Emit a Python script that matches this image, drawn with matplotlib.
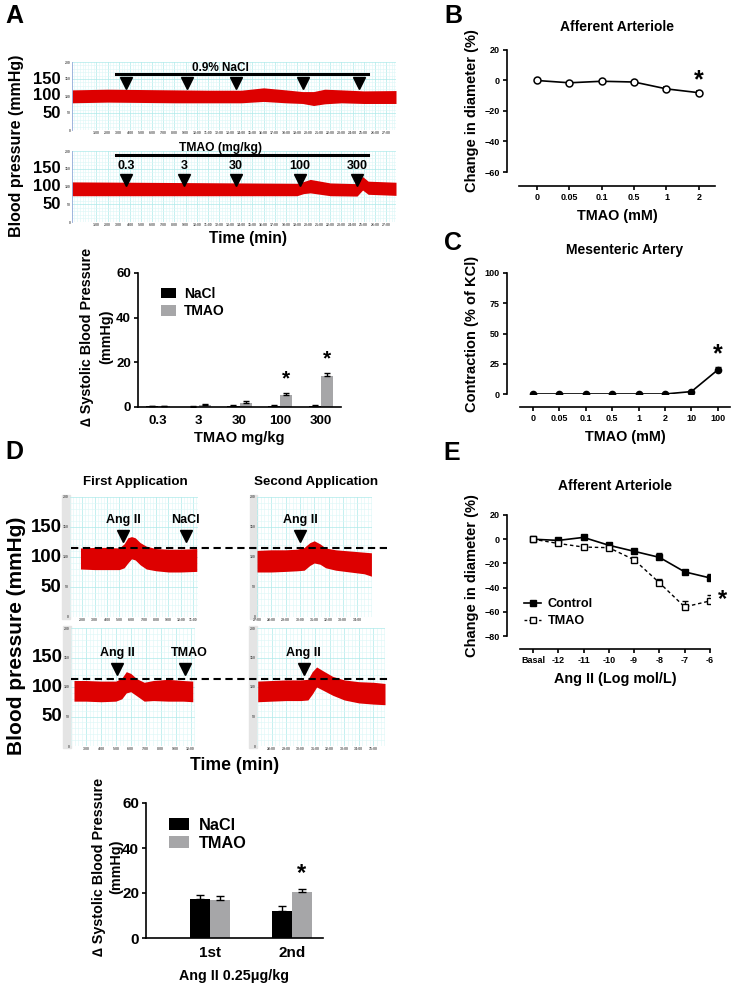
import matplotlib
matplotlib.use('Agg')
import numpy as np
import matplotlib.pyplot as plt
from matplotlib.patches import Rectangle
from matplotlib.lines import Line2D
from matplotlib.transforms import blended_transform_factory

W, H = 733, 985
plt.rcParams['font.family'] = ['Liberation Sans', 'DejaVu Sans']
plt.rcParams['font.weight'] = 'bold'
plt.rcParams['axes.labelweight'] = 'bold'
plt.rcParams['axes.titleweight'] = 'bold'
plt.rcParams['axes.linewidth'] = 1.2

# ---------------- data ----------------
# A: BP recordings (time in min, upper / lower envelope in mmHg)
a1_t = [-1.2, 2, 5, 8, 11, 14, 16, 18, 19.5, 20.5, 21.5, 23, 25, 27.9]
a1_up = [118, 120, 119, 118, 117, 117, 124, 118, 113, 113, 120, 118, 115, 116]
a1_lo = [80, 82, 81, 80, 80, 80, 84, 80, 78, 72, 77, 80, 78, 78]
a1_marks = [3.65, 9.13, 13.5, 19.55, 24.6]

a2_t = [-1.2, 4, 9, 14, 19, 19.6, 20.2, 22, 24.4, 24.9, 25.4, 27.9]
a2_up = [113, 112, 111, 110, 109, 114, 120, 110, 108, 128, 115, 112]
a2_lo = [74, 74, 74, 74, 74, 80, 82, 74, 73, 90, 78, 75]
a2_marks = [3.65, 8.86, 13.5, 19.3, 24.4]
a2_doses = ['0.3', '3', '30', '100', '300']

# A: delta SBP bars
a_doses = ['0.3', '3', '30', '100', '300']
a_nacl = [0.3, 0.2, 0.5, 0.5, 0.5]
a_nacl_err = [0.2, 0.2, 0.3, 0.3, 0.3]
a_tmao = [0.3, 0.8, 1.8, 5.5, 14.0]
a_tmao_err = [0.2, 0.5, 1.0, 0.8, 1.2]

# B: afferent arteriole, TMAO
b_conc = ['0', '0.05', '0.1', '0.5', '1', '2']
b_val = [0, -1.5, -0.5, -1, -5.5, -8]
b_err = [0.5, 0.8, 0.7, 0.8, 1.5, 1.2]

# C: mesenteric artery, TMAO
c_conc = ['0', '0.05', '0.1', '0.5', '1', '2', '10', '100']
c_val = [0, 0, 0, 0, 0, 0, 2, 20]
c_err = [0.3, 0.3, 0.3, 0.3, 0.3, 0.3, 0.5, 2.5]

# D: BP recordings around Ang II
d_tl_t = [1.85, 3, 4, 5, 5.4, 5.7, 6.0, 6.3, 6.7, 7.2, 8, 9, 10, 11.3]
d_tl_up = [115, 116, 116, 115, 122, 132, 134, 132, 124, 118, 114, 113, 113, 114]
d_tl_lo = [80, 79, 79, 79, 82, 90, 97, 95, 87, 80, 77, 75, 75, 76]
d_tr_t = [27, 28, 29, 29.8, 30.3, 30.7, 31.0, 31.4, 31.8, 32.5, 33.5, 34.5, 35.0]
d_tr_up = [111, 112, 112, 113, 116, 124, 127, 122, 115, 112, 110, 108, 107]
d_tr_lo = [75, 75, 76, 77, 78, 86, 90, 88, 82, 78, 75, 72, 68]
d_bl_t = [2.2, 3, 4, 5, 5.4, 5.7, 6.0, 6.4, 6.9, 7.5, 8.5, 9.5, 10.15]
d_bl_up = [111, 111, 110, 110, 115, 126, 123, 114, 108, 111, 113, 111, 110]
d_bl_lo = [76, 76, 75, 76, 80, 90, 92, 85, 76, 77, 76, 76, 75]
d_br_t = [27.05, 28, 29, 30, 30.5, 30.8, 31.1, 31.5, 32.2, 33, 34, 35, 35.8]
d_br_up = [110, 111, 112, 112, 113, 126, 134, 128, 118, 112, 109, 108, 106]
d_br_lo = [75, 76, 77, 77, 78, 88, 100, 95, 86, 78, 73, 71, 70]
d_base_top = 115
d_base_bottom = 113

# D: delta SBP bars
d_groups = ['1st', '2nd']
d_nacl = [17.5, 12.0]
d_nacl_err = [1.8, 2.2]
d_tmao = [16.8, 20.5]
d_tmao_err = [2.0, 1.5]

# E: afferent arteriole, Ang II
e_conc = ['Basal', '-12', '-11', '-10', '-9', '-8', '-7', '-6']
e_ctrl = [0, -1, 1.5, -5, -10, -15, -27, -32]
e_ctrl_err = [0.5, 1, 2, 2, 2, 4, 1.5, 3]
e_tmao = [0, -3.5, -6.5, -7, -17, -36, -56, -51]
e_tmao_err = [0.5, 1, 1, 1, 2, 3, 5, 5]

RED = '#dd0000'
GRAY = '#a6a6a8'


def rect(x0, y0, x1, y1):
    return [x0 / W, 1 - y1 / H, (x1 - x0) / W, (y1 - y0) / H]


fig = plt.figure(figsize=(W / 100, H / 100), dpi=100)


def ftext(x, y, s, **kw):
    kw.setdefault('ha', 'center')
    kw.setdefault('va', 'center')
    fig.text(x / W, 1 - y / H, s, **kw)


def trace_axes(r, xlim, xt, strip=False, bigsize=None, bigpad=8):
    ax = fig.add_axes(rect(*r))
    ax.set_xlim(*xlim)
    ax.set_ylim(0, 200)
    ax.set_yticks([0, 50, 100, 150, 200])
    ax.set_yticks(np.arange(0, 201, 10), minor=True)
    ax.set_xticks(xt)
    ax.set_xticklabels(['%d:00' % v for v in xt])
    ax.set_xticks(np.arange(int(xlim[0]), xlim[1], 0.25), minor=True)
    ax.grid(which='major', color='#aeeaea', lw=0.5)
    ax.grid(which='minor', color='#dcf7f7', lw=0.4)
    ax.set_axisbelow(True)
    ax.tick_params(which='both', length=0, pad=1, labelsize=2.5,
                   labelcolor='#555555')
    for s in ax.spines.values():
        s.set_visible(False)
    if strip:
        ax.add_patch(Rectangle((-0.065, -0.02), 0.065, 1.04, transform=ax.transAxes,
                               color='#e4e4e4', clip_on=False, zorder=0))
    else:
        ax.spines['left'].set_visible(True)
        ax.spines['left'].set_color('#8fa8d8')
        ax.spines['left'].set_linewidth(0.6)
    if bigsize:
        for v in [50, 100, 150]:
            ax.annotate(str(v), xy=(0, v), xycoords=ax.get_yaxis_transform(),
                        xytext=(-bigpad, 0), textcoords='offset points',
                        ha='right', va='center', fontsize=bigsize, fontweight='bold')
    return ax


def arrows(ax, xs, y, size=8):
    ax.plot(xs, [y] * len(xs), 'v', color='k', ms=size, clip_on=False, zorder=5)


def prism(ax, left_out=9, bottom_out=9):
    ax.spines['top'].set_visible(False)
    ax.spines['right'].set_visible(False)
    ax.spines['left'].set_position(('outward', left_out))
    ax.spines['bottom'].set_position(('outward', bottom_out))
    ax.tick_params(direction='out', length=3, width=1.2, labelsize=6.5, pad=2)
    for lab in ax.get_xticklabels() + ax.get_yticklabels():
        lab.set_fontweight('bold')


# ---------------- Panel A traces ----------------
ftext(14, 16, 'A', fontsize=18)
ax = trace_axes((72, 62, 396, 130), (-1.2, 27.9), list(range(1, 28)), bigsize=12)
ax.fill_between(a1_t, a1_lo, a1_up, color=RED, lw=0, zorder=2)
ax.plot([2.75, 25.4], [165, 165], color='k', lw=2.2, clip_on=False, zorder=5)
arrows(ax, a1_marks, 138)
ax.text(12.1, 183, '0.9% NaCl', ha='center', va='center', fontsize=8.5)

ax = trace_axes((72, 151, 396, 222), (-1.2, 27.9), list(range(1, 28)), bigsize=12)
ax.fill_between(a2_t, a2_lo, a2_up, color=RED, lw=0, zorder=2)
ax.plot([2.75, 25.4], [189, 189], color='k', lw=2.2, clip_on=False, zorder=5)
arrows(ax, a2_marks, 118)
for xm, d in zip(a2_marks, a2_doses):
    ax.text(xm, 158, d, ha='center', va='center', fontsize=9)
ax.text(12.1, 209, 'TMAO (mg/kg)', ha='center', va='center', fontsize=8.7)

ftext(17, 146, 'Blood pressure (mmHg)', rotation=90, fontsize=11.5)
ftext(248, 238, 'Time (min)', fontsize=11.2)

# ---------------- Panel A bars ----------------
ax = fig.add_axes(rect(138, 273, 341, 407))
x = np.arange(len(a_doses))
bw = 0.3
ax.bar(x - bw / 2, a_nacl, bw, color='k', yerr=[np.zeros(5), a_nacl_err],
       capsize=2.5, error_kw=dict(lw=1, capthick=1), label='NaCl')
ax.bar(x + bw / 2, a_tmao, bw, color=GRAY, yerr=[np.zeros(5), a_tmao_err],
       capsize=2.5, error_kw=dict(lw=1, capthick=1), label='TMAO')
for i in [3, 4]:
    ax.text(x[i] + bw / 2, a_tmao[i] + a_tmao_err[i] + 2, '*', ha='center',
            va='bottom', fontsize=15)
ax.set_xlim(-0.5, 4.5)
ax.set_ylim(0, 60)
ax.set_yticks([0, 20, 40, 60])
ax.set_xticks(x)
ax.set_xticklabels(a_doses)
ax.spines['top'].set_visible(False)
ax.spines['right'].set_visible(False)
ax.tick_params(axis='x', length=0, labelsize=9.5, pad=6)
ax.tick_params(axis='y', length=3, width=1.2, labelsize=9.5, pad=2)
ax.set_xlabel('TMAO mg/kg', fontsize=10.5, labelpad=3)
ax.legend(loc='upper left', bbox_to_anchor=(0.05, 0.99), frameon=False,
          fontsize=10, handlelength=1.1, handleheight=0.8, labelspacing=0.25,
          handletextpad=0.6)
ftext(87, 337, '\u2206 Systolic Blood Pressure', rotation=90, fontsize=10.4)
ftext(106, 337, '(mmHg)', rotation=90, fontsize=10.4)

# ---------------- Panel B ----------------
ftext(453, 16, 'B', fontsize=18)
ax = fig.add_axes(rect(519, 50, 715, 172))
xb = np.arange(len(b_conc))
ax.errorbar(xb, b_val, yerr=[np.zeros(len(b_val)), b_err], color='k', lw=1.2,
            capsize=2.5, capthick=1, marker='o', ms=5, mfc='white', mec='k', mew=1.1)
ax.plot(xb, b_val, '.', color='k', ms=2.2)
ax.text(5, 0, '*', ha='center', va='center', fontsize=18)
ax.set_xlim(-0.56, 5.5)
ax.set_ylim(-60, 20)
ax.set_yticks([-60, -40, -20, 0, 20])
ax.set_xticks(xb)
ax.set_xticklabels(b_conc)
prism(ax, 8.6, 10)
ax.set_xlabel('TMAO (mM)', fontsize=10.4, labelpad=5)
ax.set_ylabel('Change in diameter (%)', fontsize=10.5, labelpad=4)
ax.set_title('Afferent Arteriole', fontsize=10, pad=14)

# ---------------- Panel C ----------------
ftext(453, 243, 'C', fontsize=18)
ax = fig.add_axes(rect(520, 273, 730, 394))
xc = np.arange(len(c_conc))
ax.errorbar(xc, c_val, yerr=[np.zeros(len(c_val)), c_err], color='k', lw=1.2,
            capsize=2.5, capthick=1, marker='o', ms=4.5, mfc='k', mec='k')
ax.text(7, 33, '*', ha='center', va='center', fontsize=18)
ax.set_xlim(-0.49, 7.46)
ax.set_ylim(0, 100)
ax.set_yticks([0, 25, 50, 75, 100])
ax.set_xticks(xc)
ax.set_xticklabels(c_conc)
prism(ax, 9.4, 9.4)
ax.set_xlabel('TMAO (mM)', fontsize=10.4, labelpad=5)
ax.set_ylabel('Contraction (% of KCl)', fontsize=10.5, labelpad=4)
ax.set_title('Mesenteric Artery', fontsize=10, pad=14)

# ---------------- Panel D traces ----------------
ftext(14, 452, 'D', fontsize=18)
ftext(135, 482, 'First Application', fontsize=9.6)
ftext(316, 482, 'Second Application', fontsize=9.6)

dash = dict(color='k', lw=1.5, ls=(0, (3.5, 2.2)), zorder=6)

ax = trace_axes((70, 497, 198, 617), (1.85, 11.4), list(range(2, 12)), strip=True,
                bigsize=13.4, bigpad=6)
ax.fill_between(d_tl_t, d_tl_lo, d_tl_up, color=RED, lw=0, zorder=2)
arrows(ax, [5.3, 10.4], 135, 9)
ax.text(5.3, 162, 'Ang II', ha='center', va='center', fontsize=9)
ax.text(10.4, 162, 'NaCl', ha='center', va='center', fontsize=9)

ax = trace_axes((257, 497, 372, 617), (27, 35.04), list(range(27, 35)), strip=True)
ax.fill_between(d_tr_t, d_tr_lo, d_tr_up, color=RED, lw=0, zorder=2)
arrows(ax, [30.0], 135, 9)
ax.text(30.0, 162, 'Ang II', ha='center', va='center', fontsize=9)
tr = blended_transform_factory(ax.transAxes, ax.transData)
ax.add_line(Line2D([-1.617, 1.13], [d_base_top] * 2, transform=tr, clip_on=False, **dash))

ax = trace_axes((71, 628, 195, 746), (2.2, 10.3), list(range(3, 11)), strip=True,
                bigsize=13.4, bigpad=6)
ax.fill_between(d_bl_t, d_bl_lo, d_bl_up, color=RED, lw=0, zorder=2)
arrows(ax, [5.1, 9.6], 130, 9)
ax.text(5.1, 158, 'Ang II', ha='center', va='center', fontsize=9)
ax.text(9.9, 158, 'TMAO', ha='center', va='center', fontsize=9)

ax = trace_axes((257, 628, 385, 746), (27.05, 35.8), list(range(28, 36)), strip=True)
ax.fill_between(d_br_t, d_br_lo, d_br_up, color=RED, lw=0, zorder=2)
arrows(ax, [30.2], 130, 9)
ax.text(30.2, 158, 'Ang II', ha='center', va='center', fontsize=9)
tr = blended_transform_factory(ax.transAxes, ax.transData)
ax.add_line(Line2D([-1.453, 1.02], [d_base_bottom] * 2, transform=tr, clip_on=False, **dash))

ftext(17, 636, 'Blood pressure (mmHg)', rotation=90, fontsize=15)
ftext(235, 766, 'Time (min)', fontsize=12.7)

# ---------------- Panel D bars ----------------
ax = fig.add_axes(rect(146, 803, 323, 938))
xd = np.arange(len(d_groups))
bw = 0.245
ax.bar(xd - bw / 2, d_nacl, bw, color='k', yerr=[np.zeros(2), d_nacl_err],
       capsize=3, error_kw=dict(lw=1, capthick=1), label='NaCl')
ax.bar(xd + bw / 2, d_tmao, bw, color=GRAY, yerr=[np.zeros(2), d_tmao_err],
       capsize=3, error_kw=dict(lw=1, capthick=1), label='TMAO')
ax.text(xd[1] + bw / 2, d_tmao[1] + d_tmao_err[1] + 1.5, '*', ha='center',
        va='bottom', fontsize=17)
ax.set_xlim(-0.78, 1.38)
ax.set_ylim(0, 60)
ax.set_yticks([0, 20, 40, 60])
ax.set_xticks(xd)
ax.set_xticklabels(d_groups)
ax.spines['top'].set_visible(False)
ax.spines['right'].set_visible(False)
ax.tick_params(axis='x', length=0, labelsize=11, pad=6)
ax.tick_params(axis='y', length=3, width=1.2, labelsize=11, pad=2)
ax.set_xlabel('Ang II 0.25\u03bcg/kg', fontsize=10.3, labelpad=6)
ax.legend(loc='upper left', bbox_to_anchor=(0.05, 1.0), frameon=False,
          fontsize=11.7, handlelength=1.2, handleheight=0.8, labelspacing=0.2,
          handletextpad=0.6)
ftext(99, 867, '\u2206 Systolic Blood Pressure', rotation=90, fontsize=10.4)
ftext(116, 867, '(mmHg)', rotation=90, fontsize=10.4)

# ---------------- Panel E ----------------
ftext(452, 453, 'E', fontsize=18)
ax = fig.add_axes(rect(520, 515, 710, 636))
xe = np.arange(len(e_conc))
ax.errorbar(xe, e_ctrl, yerr=[np.zeros(len(e_ctrl)), e_ctrl_err], color='k', lw=1.2,
            capsize=2.5, capthick=1, marker='s', ms=5, mfc='k', mec='k')
ax.errorbar(xe, e_tmao, yerr=[np.zeros(len(e_tmao)), e_tmao_err], color='k', lw=1.0,
            ls=(0, (2.5, 2)), capsize=2.5, capthick=1, marker='s', ms=5, mfc='white',
            mec='k', mew=1.0)
ax.text(7.5, -50, '*', ha='center', va='center', fontsize=17)
ax.set_xlim(-0.51, 7.0)
ax.set_ylim(-80, 20)
ax.set_yticks([-80, -60, -40, -20, 0, 20])
ax.set_xticks(xe)
ax.set_xticklabels(e_conc)
prism(ax, 9.4, 9.4)
ax.set_xlabel('Ang II (Log mol/L)', fontsize=10.4, labelpad=5)
ax.set_ylabel('Change in diameter (%)', fontsize=10.5, labelpad=4)
ax.set_title('Afferent Arteriole', fontsize=10, pad=18)
handles = [Line2D([], [], color='k', lw=1.2, marker='s', ms=5, mfc='k'),
           Line2D([], [], color='k', lw=1.0, ls=(0, (2, 1.5)), marker='s', ms=5,
                  mfc='white')]
ax.legend(handles, ['Control', 'TMAO'], loc='lower left', bbox_to_anchor=(-0.04, -0.02),
          frameon=False, fontsize=9.1, handlelength=1.4, labelspacing=0.4,
          handletextpad=0.5)

fig.savefig('out.png', dpi=100)
